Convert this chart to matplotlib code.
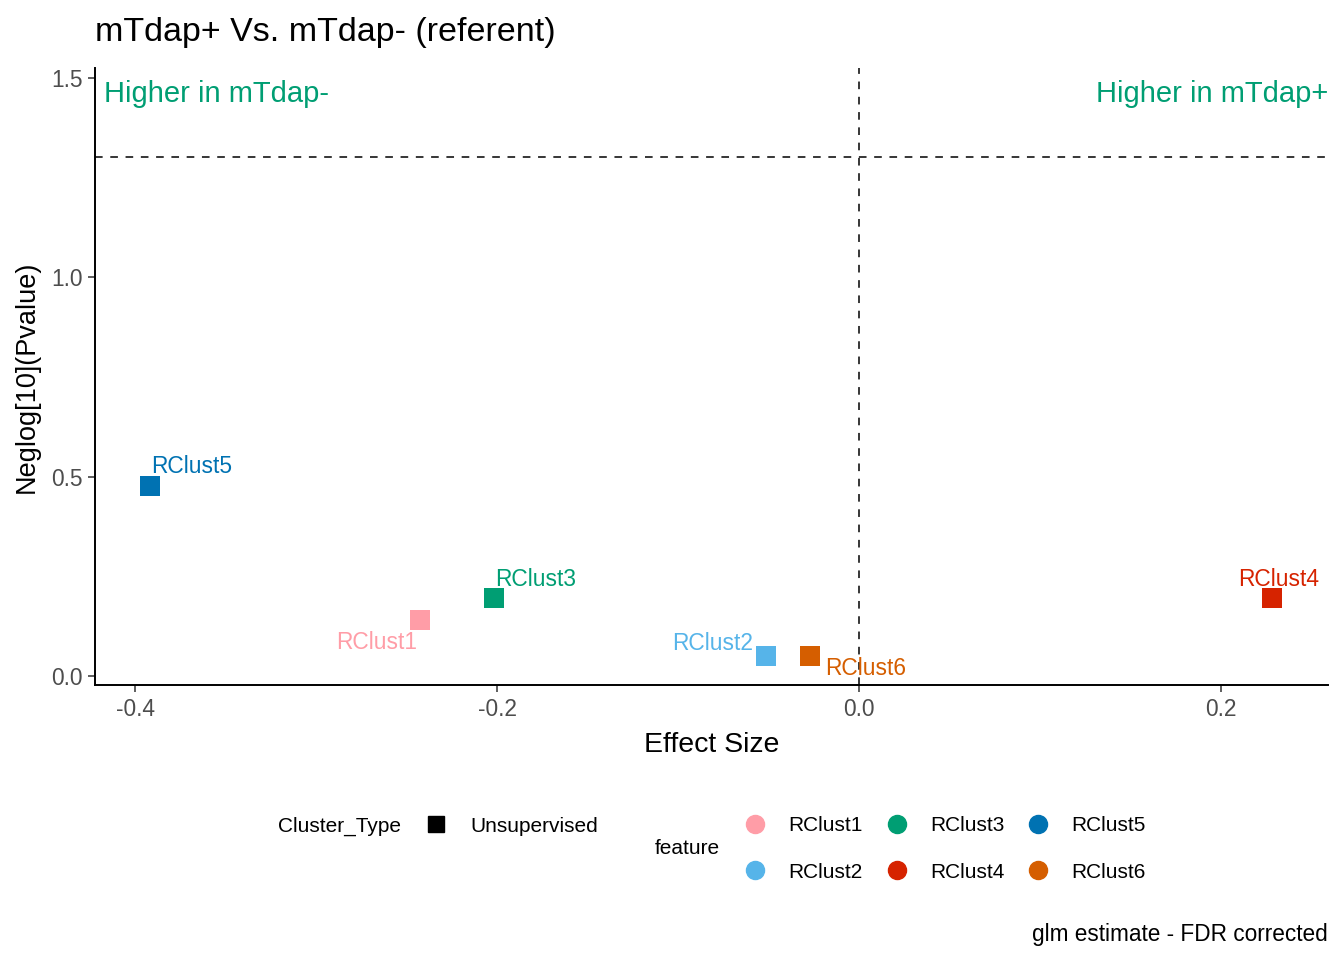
import numpy as np
import pandas as pd
import matplotlib
matplotlib.use("Agg")
import matplotlib.pyplot as plt
from matplotlib.lines import Line2D

plt.rcParams['font.family'] = ['Liberation Sans', 'DejaVu Sans']

# values
features = ['RClust1', 'RClust2', 'RClust3', 'RClust4', 'RClust5', 'RClust6']
effect_size = [-0.2425, -0.0514, -0.2017, 0.2282, -0.3917, -0.0271]
neglog_p = [0.140, 0.050, 0.196, 0.196, 0.477, 0.050]
colours = ['#FF9DA7', '#56B4E9', '#009E73', '#D62300', '#0072B2', '#D55E00']
x_ticks = [-0.4, -0.2, 0.0, 0.2]
y_ticks = [0.0, 0.5, 1.0, 1.5]
p_cut = 0.05

# label offsets (points) and alignment, like ggrepel put them
label_pos = {
    'RClust1': (-2, -16, 'right'),
    'RClust2': (-9, 9, 'right'),
    'RClust3': (1, 13, 'left'),
    'RClust4': (5, 13, 'center'),
    'RClust5': (1, 14, 'left'),
    'RClust6': (11, -9, 'left'),
}

df = pd.DataFrame({'feature': features, 'es': effect_size, 'p': neglog_p, 'col': colours})

fig = plt.figure(figsize=(13.44, 9.6), dpi=100)
ax = fig.add_axes([95 / 1344, 1 - 685 / 960, (1328 - 95) / 1344, (685 - 68) / 960])

for _, r in df.iterrows():
    ax.scatter(r['es'], r['p'], marker='s', s=205, color=r['col'], linewidths=0, zorder=3)
    dx, dy, ha = label_pos[r['feature']]
    ax.annotate(r['feature'], (r['es'], r['p']), xytext=(dx, dy), textcoords='offset points',
                ha=ha, va='center', color=r['col'], fontsize=16.4, zorder=4)

ax.axvline(0, color='black', lw=1.1, ls=(0, (5, 5)))
ax.axhline(-np.log10(p_cut), color='black', lw=1.1, ls=(0, (5, 5)))

ax.set_xlim(-0.4221, 0.2591)
ax.set_ylim(-0.0226, 1.525)
ax.set_xticks(x_ticks)
ax.set_xticklabels([f'{v:.1f}' for v in x_ticks])
ax.set_yticks(y_ticks)
ax.set_yticklabels([f'{v:.1f}' for v in y_ticks])
ax.tick_params(colors='#333333', labelcolor='#4D4D4D', labelsize=16.4, length=5, width=1.1, pad=4)
for s in ['top', 'right']:
    ax.spines[s].set_visible(False)
for s in ['left', 'bottom']:
    ax.spines[s].set_linewidth(1.4)
    ax.spines[s].set_color('black')

ax.set_xlabel('Effect Size', fontsize=20.5, labelpad=8)
ax.set_ylabel('Neglog[10](Pvalue)', fontsize=19.5, labelpad=8)

ax.text(0.007, 0.958, 'Higher in mTdap-', transform=ax.transAxes, ha='left', va='center',
        color='#009E73', fontsize=21)
ax.text(1.0, 0.958, 'Higher in mTdap+', transform=ax.transAxes, ha='right', va='center',
        color='#009E73', fontsize=21)

fig.text(95 / 1344, 1 - 32 / 960, 'mTdap+ Vs. mTdap- (referent)', ha='left', va='center', fontsize=24.5)
fig.text(1328 / 1344, 1 - 934 / 960, 'glm estimate - FDR corrected', ha='right', va='center', fontsize=16.3)

# legends
fig.text(278 / 1344, 1 - 826 / 960, 'Cluster_Type', ha='left', va='center', fontsize=15)
sq = [Line2D([], [], marker='s', ls='none', color='black', markersize=12)]
fig.legend(sq, ['Unsupervised'], loc='center left', bbox_to_anchor=(425.6 / 1344, 1 - 826 / 960),
           frameon=False, fontsize=15, handlelength=1.0, handletextpad=1.13,
           borderpad=0, borderaxespad=0)

fig.text(655 / 1344, 1 - 849 / 960, 'feature', ha='left', va='center', fontsize=15)
dots = [Line2D([], [], marker='o', ls='none', color=c, markersize=13) for c in colours]
fig.legend(dots, features, loc='center left', bbox_to_anchor=(744.6 / 1344, 1 - 849 / 960),
           ncol=3, frameon=False, fontsize=15, handlelength=1.0, handletextpad=1.1,
           columnspacing=1.13, labelspacing=1.3, borderpad=0, borderaxespad=0)

fig.savefig('out.png', dpi=100)
